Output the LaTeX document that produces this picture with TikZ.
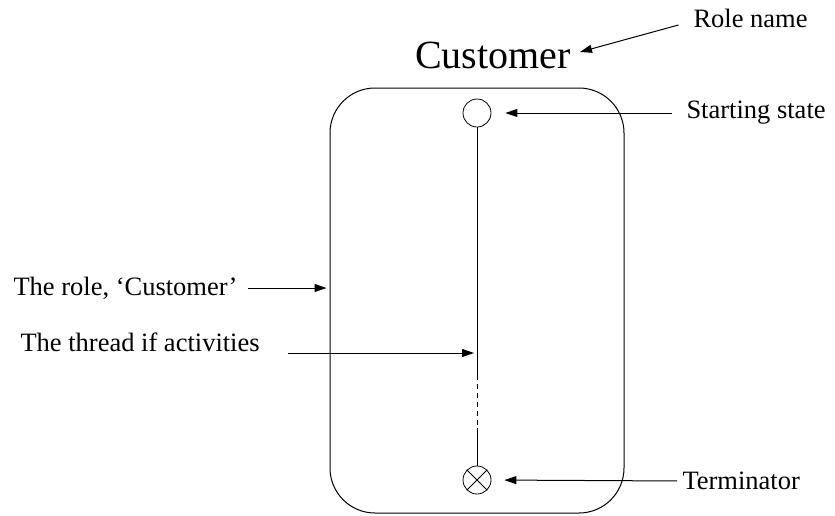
\documentclass[tikz,border=0pt]{standalone}
\usepackage{fontspec}
\setmainfont{Liberation Serif}
\usetikzlibrary{arrows.meta}
\tikzset{
    lbl/.style={inner sep=0pt, font=\fontsize{26.5}{31}\selectfont},
    pointer/.style={-{Triangle[length=12pt,width=8pt]}, line width=1pt},
    state/.style={draw, circle, minimum size=28pt, inner sep=0pt, line width=0.8pt}
}
\begin{document}
\begin{tikzpicture}[x=1pt, y=-1pt, line width=1pt]
    \useasboundingbox (0,0) rectangle (835,515);
    \pgfmathsetmacro\mid{477};

    \node[draw, rounded corners=45pt, minimum width=294pt, minimum height=425pt,
        line width=1pt] (role) at (\mid, 300.5) {};
    \node[lbl, anchor=base, font=\fontsize{40}{46}\selectfont] (rname) at (493, 68) {Customer};
    \node[state] (start) at (\mid, 113) {};
    \node[state] (term) at (\mid, 480) {};
    \draw[line width=0.8pt] (term.north west) -- (term.south east);
    \draw[line width=0.8pt] (term.north east) -- (term.south west);

    \coordinate (dashtop) at (\mid, 375);
    \coordinate (dashbot) at (\mid, 428);
    \draw (start.south) -- (dashtop);
    \draw[dash pattern=on 5pt off 4pt] (dashtop) -- (dashbot);
    \draw (dashbot) -- (term.north);

    \node[lbl, anchor=base west] (rolelbl) at (693, 27) {Role name};
    \node[lbl, anchor=west] (startlbl) at (686, 113) {Starting state};
    \node[lbl, anchor=west] (termlbl) at (682, 481) {Terminator};
    \node[lbl, anchor=west] (custlbl) at (13, 288) {The role, `Customer'};
    \node[lbl, anchor=west] (threadlbl) at (20, 342) {The thread if activities};
    \coordinate (rtip) at (580, 52);
    \coordinate (ttip) at (474, 353);
    \coordinate (tstart) at (288, 353);

    \draw[pointer, shorten <=15pt] (rolelbl.west |- 0,21) -- (rtip);
    \draw[pointer, shorten <=14pt, shorten >=14pt] (startlbl.west) -- (start.east);
    \draw[pointer, shorten <=5pt, shorten >=13pt] (termlbl.west) -- (term.east);
    \draw[pointer, shorten <=10pt, shorten >=3pt] (custlbl.east) -- (role.west |- custlbl.east);
    \draw[pointer] (tstart) -- (ttip);
\end{tikzpicture}
\end{document}
